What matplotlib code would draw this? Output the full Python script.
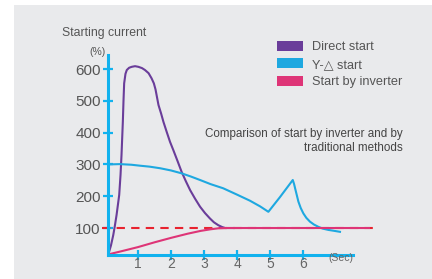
import matplotlib
matplotlib.use("Agg")
import matplotlib.pyplot as plt
from matplotlib.patches import Rectangle, Patch
import numpy as np

plt.rcParams['font.family'] = ['Liberation Sans', 'DejaVu Sans']

# ---- data ----
direct_x = [0.1, 0.18, 0.25, 0.3, 0.35, 0.43, 0.47, 0.5, 0.54, 0.56, 0.58, 0.62, 0.66, 0.73, 0.81, 0.91, 1.01, 1.12, 1.21, 1.32, 1.41, 1.48, 1.53,
            1.62, 1.7, 1.77, 1.87, 1.97, 2.07, 2.2, 2.32, 2.45, 2.58, 2.73, 2.88, 3.03, 3.18, 3.3, 3.43, 3.55, 3.64, 3.9]
direct_y = [17, 45, 78, 108, 141, 204, 267, 330, 434, 500, 555, 585, 597, 604, 607, 609, 607, 603, 597, 587, 571, 555, 536,
            487, 460, 434, 402, 371, 345, 310, 277, 247, 219, 192, 167, 147, 130, 118, 109, 103, 100, 100]

yd_x = [0.1, 0.45, 0.8, 1.06, 1.35, 1.67, 2.0, 2.32, 2.6, 2.88, 3.2, 3.58, 4.0, 4.39, 4.7, 4.95, 5.3, 5.69, 5.73, 5.76, 5.81, 5.86, 5.93,
        6.01, 6.1, 6.21, 6.33, 6.46, 6.6, 6.77, 6.95, 7.12]
yd_y = [300, 301, 299, 296, 293, 288, 281, 272, 262, 251, 238, 225, 205, 186, 168, 151, 197, 251, 238, 225, 204, 183, 163,
        146, 132, 120, 111, 104, 98, 94, 91, 88]

inv_x = [0.1, 0.5, 1.0, 1.5, 2.0, 2.5, 2.9, 3.2, 3.43, 3.7, 8.0]
inv_y = [17, 27, 40, 55, 69, 82, 91, 96, 99, 100, 100]

ref_x = [-0.1, 8.25]
ref_y = [100, 100]

y_ticks = [100, 200, 300, 400, 500, 600]
x_ticks = [1, 2, 3, 4, 5, 6]
legend_labels = ["Direct start", "Y-\u25b3 start", "Start by inverter"]

# ---- styling ----
c_purple = "#6a3d9a"
c_blue = "#1ea8e0"
c_pink = "#de3577"
c_red = "#e8232f"
c_axis = "#12b2ee"
c_bg = "#e9eaec"
c_text = "#555555"

fig = plt.figure(figsize=(4.32, 2.79), dpi=100)
fig.patch.set_facecolor("white")
fig.patches.append(Rectangle((14 / 432, 0), 1 - 14 / 432, (279 - 5) / 279,
                             transform=fig.transFigure, facecolor=c_bg,
                             edgecolor="none", zorder=-10))

ax = fig.add_axes([0.2049, 0.0688, 0.9306 - 0.2049, 0.8437 - 0.0688])
ax.set_zorder(2)
ax.set_facecolor("none")
ax.set_xlim(-0.5, 9)
ax.set_ylim(0, 680)

ax.plot(ref_x, ref_y, color=c_red, lw=1.5, dashes=(4, 3), zorder=2)
ax.plot(inv_x, inv_y, color=c_pink, lw=1.5, zorder=4, solid_joinstyle="round")
ax.plot(direct_x, direct_y, color=c_purple, lw=1.5, zorder=3, solid_joinstyle="round")
ax.plot(yd_x, yd_y, color=c_blue, lw=1.5, zorder=3, solid_joinstyle="round")

for s in ["top", "right"]:
    ax.spines[s].set_visible(False)
ax.spines["left"].set_position(("data", 0.1))
ax.spines["bottom"].set_position(("data", 15))
ax.spines["left"].set_bounds(15, 644)
ax.spines["bottom"].set_bounds(0.1, 7.5)
for s in ["left", "bottom"]:
    ax.spines[s].set_color(c_axis)
    ax.spines[s].set_linewidth(2.2)
    ax.spines[s].set_zorder(5)

ax.set_yticks(y_ticks)
ax.set_xticks(x_ticks)
ax.tick_params(axis="y", direction="inout", length=7, width=1.6, color=c_axis,
               labelsize=11, labelcolor=c_text, pad=2)
ax.tick_params(axis="x", direction="inout", length=7, width=1.6, color=c_axis,
               labelsize=10, labelcolor="#666666", pad=-2)

handles = [Patch(facecolor=c, edgecolor="none") for c in (c_purple, c_blue, c_pink)]
fig.legend(handles, legend_labels, loc="upper left",
           bbox_to_anchor=(277 / 432, 0.853), frameon=False, fontsize=9.2,
           labelcolor=c_text, borderpad=0, borderaxespad=0, labelspacing=0.4,
           handlelength=2.0, handleheight=0.8, handletextpad=0.75)

fig.text(62 / 432, (279 - 33) / 279, "Starting current", fontsize=8.8,
         color=c_text, ha="left", va="center")
fig.text(97 / 432, (279 - 52) / 279, "(%)", fontsize=7.5, color=c_text,
         ha="center", va="center")
fig.text(403 / 432, (279 - 134) / 279, "Comparison of start by inverter and by",
         fontsize=8.4, color="#444444", ha="right", va="center")
fig.text(403 / 432, (279 - 148) / 279, "traditional methods",
         fontsize=8.4, color="#444444", ha="right", va="center")
fig.text(328 / 432, (279 - 258) / 279, "(Sec)", fontsize=7.5, color="#666666",
         ha="left", va="center")

fig.savefig("out.png", dpi=100)
